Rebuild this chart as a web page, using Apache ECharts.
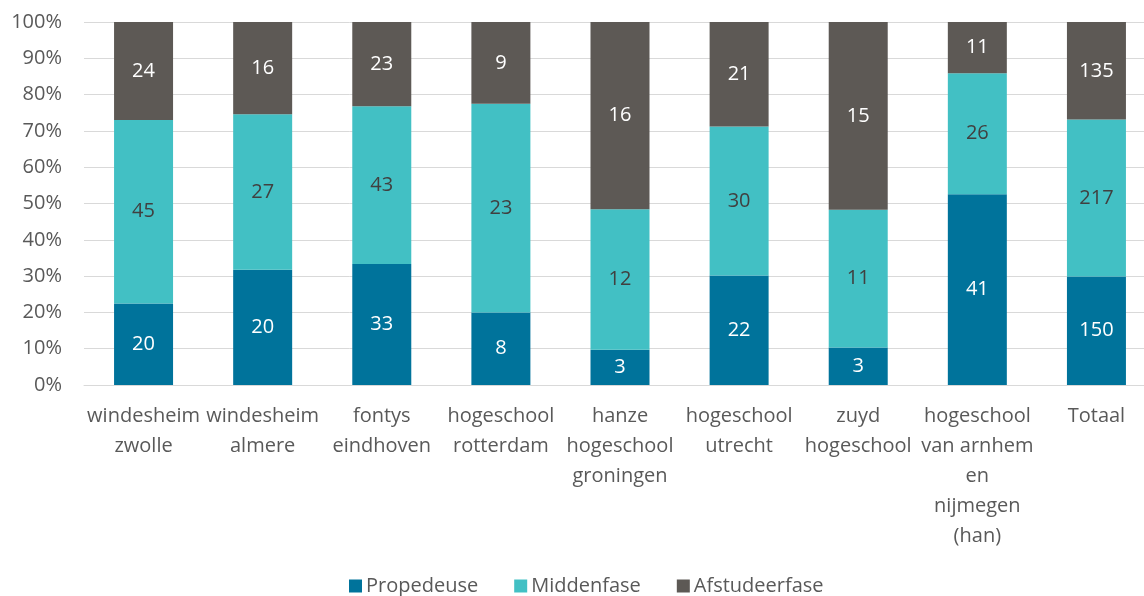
<!DOCTYPE html>
<html>
<head>
<meta charset="utf-8">
<script src="https://cdn.jsdelivr.net/npm/echarts@6/dist/echarts.min.js"></script>
<style>
  html, body { margin: 0; padding: 0; background: #fff; }
  #chart { width: 1144px; height: 596px; }
</style>
</head>
<body>
<div id="chart"></div>
<script>
// categorieën (met regelafbreking zoals in het origineel)
const categories = [
  'windesheim\nzwolle',
  'windesheim\nalmere',
  'fontys\neindhoven',
  'hogeschool\nrotterdam',
  'hanze\nhogeschool\ngroningen',
  'hogeschool\nutrecht',
  'zuyd\nhogeschool',
  'hogeschool\nvan arnhem\nen\nnijmegen\n(han)',
  'Totaal'
]

// aantallen per fase
const propedeuse = [20, 20, 33, 8, 3, 22, 3, 41, 150]
const middenfase = [45, 27, 43, 23, 12, 30, 11, 26, 217]
const afstudeerfase = [24, 16, 23, 9, 16, 21, 15, 11, 135]

const yTicks = [0, 10, 20, 30, 40, 50, 60, 70, 80, 90, 100]

const totals = categories.map((_, i) => propedeuse[i] + middenfase[i] + afstudeerfase[i])
const pct = (arr) => arr.map((v, i) => (v / totals[i]) * 100)

const font = '"Open Sans", "Noto Sans", sans-serif'

const makeSeries = (name, counts, color, labelColor) => ({
  name: name,
  type: 'bar',
  stack: 'total',
  barWidth: 59,
  data: pct(counts),
  itemStyle: { color: color },
  label: {
    show: true,
    position: 'inside',
    color: labelColor,
    fontSize: 20,
    fontFamily: font,
    formatter: (p) => counts[p.dataIndex]
  }
})

const chart = echarts.init(document.getElementById('chart'))
chart.setOption({
  animation: false,
  textStyle: { fontFamily: font },
  // het plotgebied loopt iets buiten het canvas (zoals in het origineel)
  grid: { left: 84, width: 1072, top: 22, bottom: 211, containLabel: false, outerBoundsMode: 'none' },
  legend: {
    bottom: -5,
    left: 344,
    itemWidth: 13,
    itemHeight: 13,
    itemGap: 36,
    icon: 'rect',
    textStyle: { color: '#595959', fontSize: 20, fontFamily: font, padding: [0, 0, 0, -1] },
    data: ['Propedeuse', 'Middenfase', 'Afstudeerfase']
  },
  xAxis: {
    type: 'category',
    data: categories,
    axisLine: { show: true, lineStyle: { color: '#d9d9d9', width: 1 } },
    axisTick: { show: false },
    axisLabel: {
      color: '#595959',
      fontSize: 20,
      fontFamily: font,
      lineHeight: 30,
      margin: 16,
      interval: 0
    }
  },
  yAxis: {
    type: 'value',
    min: yTicks[0],
    max: yTicks[yTicks.length - 1],
    interval: 10,
    axisLine: { show: false },
    axisTick: { show: false },
    splitLine: { lineStyle: { color: '#d9d9d9', width: 1 } },
    axisLabel: {
      color: '#595959',
      fontSize: 20,
      fontFamily: font,
      margin: 22,
      formatter: '{value}%'
    }
  },
  series: [
    makeSeries('Propedeuse', propedeuse, '#00739b', '#ffffff'),
    makeSeries('Middenfase', middenfase, '#42c0c4', '#404040'),
    makeSeries('Afstudeerfase', afstudeerfase, '#5d5955', '#ffffff')
  ]
})
</script>
</body>
</html>
